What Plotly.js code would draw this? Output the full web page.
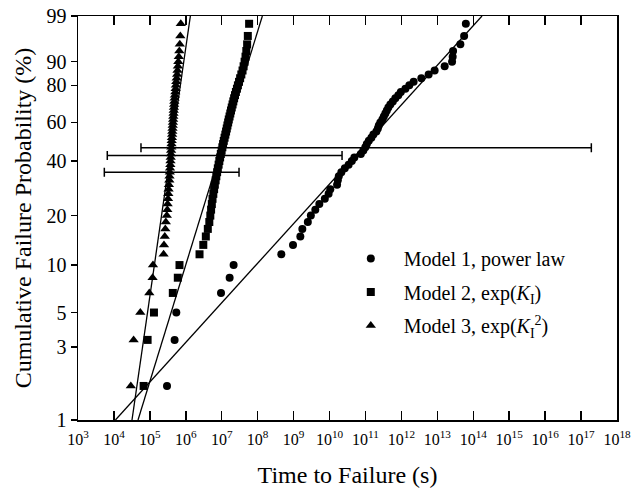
<!DOCTYPE html>
<html>
<head>
<meta charset="utf-8">
<script src="https://cdn.plot.ly/plotly-3.0.1.min.js"></script>
<style>
  html, body { margin: 0; padding: 0; background: #ffffff; }
  #chart { width: 631px; height: 491px; }
</style>
</head>
<body>
<div id="chart"></div>
<script>
// Plotting positions (cumulative failure probability, %) shared by all three models
const probPct = [1.67, 3.33, 5.00, 6.67, 8.33, 10.00, 11.67, 13.33, 15.00, 16.67,
  18.33, 20.00, 21.67, 23.33, 25.00, 26.67, 28.33, 30.00, 31.67, 33.33,
  35.00, 36.67, 38.33, 40.00, 41.67, 43.33, 45.00, 46.67, 48.33, 50.00,
  51.67, 53.33, 55.00, 56.67, 58.33, 60.00, 61.67, 63.33, 65.00, 66.67,
  68.33, 70.00, 71.67, 73.33, 75.00, 76.67, 78.33, 80.00, 81.67, 83.33,
  85.00, 86.67, 88.33, 90.00, 91.67, 93.33, 95.00, 96.67, 98.33];

// Time to failure (s), model 1: power law
const model1Time = [3.00e5, 4.88e5, 5.44e5, 9.55e6, 1.66e7, 2.14e7, 4.55e8, 9.63e8, 1.54e9, 1.75e9,
  2.49e9, 3.02e9, 4.02e9, 5.20e9, 7.39e9, 9.43e9, 1.05e10, 1.62e10, 1.70e10, 1.81e10,
  2.13e10, 2.66e10, 3.40e10, 4.17e10, 4.90e10, 7.43e10, 8.72e10, 9.91e10, 1.09e11, 1.24e11,
  1.46e11, 1.66e11, 2.01e11, 2.21e11, 2.35e11, 2.59e11, 2.95e11, 3.24e11, 3.57e11, 3.93e11,
  4.33e11, 4.92e11, 5.77e11, 6.78e11, 8.21e11, 9.64e11, 1.29e12, 1.66e12, 2.19e12, 3.59e12,
  5.73e12, 8.41e12, 1.60e13, 2.57e13, 2.67e13, 2.74e13, 4.37e13, 5.57e13, 6.21e13];

// Time to failure (s), model 2: exp(K_I)
const model2Time = [6.70e4, 8.65e4, 1.30e5, 4.35e5, 5.99e5, 6.68e5, 2.41e6, 3.07e6, 3.61e6, 4.10e6,
  4.51e6, 4.81e6, 5.06e6, 5.30e6, 5.54e6, 5.83e6, 6.14e6, 6.42e6, 6.76e6, 7.07e6,
  7.44e6, 7.78e6, 8.19e6, 8.57e6, 9.01e6, 9.43e6, 9.92e6, 1.04e7, 1.09e7, 1.14e7,
  1.20e7, 1.26e7, 1.32e7, 1.38e7, 1.44e7, 1.51e7, 1.57e7, 1.65e7, 1.73e7, 1.81e7,
  1.90e7, 2.00e7, 2.10e7, 2.21e7, 2.34e7, 2.48e7, 2.65e7, 2.82e7, 3.03e7, 3.25e7,
  3.51e7, 3.79e7, 4.06e7, 4.33e7, 4.59e7, 4.83e7, 5.09e7, 5.32e7, 5.78e7];

// Time to failure (s), model 3: exp(K_I^2)
const model3Time = [2.95e4, 3.53e4, 5.42e4, 9.65e4, 1.19e5, 1.22e5, 2.41e5, 2.47e5, 2.60e5, 2.69e5,
  2.78e5, 2.96e5, 3.06e5, 3.12e5, 3.20e5, 3.26e5, 3.32e5, 3.39e5, 3.48e5, 3.52e5,
  3.59e5, 3.64e5, 3.71e5, 3.75e5, 3.80e5, 3.85e5, 3.90e5, 3.95e5, 4.00e5, 4.05e5,
  4.11e5, 4.16e5, 4.21e5, 4.27e5, 4.32e5, 4.38e5, 4.44e5, 4.49e5, 4.55e5, 4.61e5,
  4.67e5, 4.73e5, 4.79e5, 4.88e5, 4.98e5, 5.11e5, 5.21e5, 5.31e5, 5.44e5, 5.58e5,
  5.73e5, 5.88e5, 6.03e5, 6.19e5, 6.39e5, 6.60e5, 6.81e5, 7.04e5, 7.26e5];

// Fitted Weibull lines: times at 1 % and 99 % for models 1, 2, 3
const fitProb = [1, 99];
const fitTimeAt1 = [1.10e4, 4.68e4, 3.18e4];
const fitTimeAt99 = [1.75e14, 1.35e8, 1.34e6];

// Confidence ranges (s) for models 1, 2, 3, drawn at the given probability level
const ciProb = [46.5, 42.6, 35.0];
const ciLow = [5.66e4, 6.53e3, 5.40e3];
const ciHigh = [1.93e17, 2.23e10, 3.03e7];

const seriesNames = [
  'Model 1, power law',
  'Model 2, exp(<i>K</i><sub>I</sub>)',
  'Model 3, exp(<i>K</i><sub>I</sub><sup>2</sup>)'
];
const seriesSymbols = ['circle', 'square', 'triangle-up'];
const seriesSizes = [8, 8, 9];

const xTickVals = [1e3, 1e4, 1e5, 1e6, 1e7, 1e8, 1e9, 1e10, 1e11, 1e12, 1e13, 1e14, 1e15, 1e16, 1e17, 1e18];
const xTickText = ['10<sup>3</sup>', '10<sup>4</sup>', '10<sup>5</sup>', '10<sup>6</sup>', '10<sup>7</sup>',
  '10<sup>8</sup>', '10<sup>9</sup>', '10<sup>10</sup>', '10<sup>11</sup>', '10<sup>12</sup>',
  '10<sup>13</sup>', '10<sup>14</sup>', '10<sup>15</sup>', '10<sup>16</sup>', '10<sup>17</sup>', '10<sup>18</sup>'];
const yTickPct = [1, 3, 5, 10, 20, 40, 60, 80, 90, 99];
const yTickText = ['1', '3', '5', '10', '20', '40', '60', '80', '90', '99'];

// Weibull probability scale: ln(-ln(1 - F))
const weib = p => Math.log(-Math.log(1 - p / 100));
const yRange = [weib(1), weib(99)];

const FONT = 'Liberation Serif, Times New Roman, serif';
const traces = [];

// fitted lines
for (let k = 0; k < 3; k++) {
  traces.push({
    x: [fitTimeAt1[k], fitTimeAt99[k]],
    y: fitProb.map(weib),
    mode: 'lines',
    line: { color: '#000', width: 1.3 },
    showlegend: false,
    hoverinfo: 'skip'
  });
}

// confidence ranges as horizontal error bars around the geometric centre
for (let k = 0; k < 3; k++) {
  const c = Math.sqrt(ciLow[k] * ciHigh[k]);
  traces.push({
    x: [c],
    y: [weib(ciProb[k])],
    mode: 'markers',
    marker: { color: 'rgba(0,0,0,0)', size: 1 },
    error_x: {
      type: 'data', symmetric: false,
      array: [ciHigh[k] - c], arrayminus: [c - ciLow[k]],
      color: '#000', thickness: 1.5, width: 4.5
    },
    showlegend: false,
    hoverinfo: 'skip'
  });
}

// data points
const times = [model1Time, model2Time, model3Time];
for (let k = 0; k < 3; k++) {
  traces.push({
    x: times[k],
    y: probPct.map(weib),
    mode: 'markers',
    name: seriesNames[k],
    legendgroup: 'g' + k,
    marker: { symbol: seriesSymbols[k], size: seriesSizes[k], color: '#000' }
  });
}

const layout = {
  width: 631,
  height: 491,
  margin: { l: 78, r: 14, t: 16, b: 71 },
  paper_bgcolor: '#fff',
  plot_bgcolor: '#fff',
  font: { family: FONT, color: '#000', size: 20 },
  showlegend: true,
  legend: {
    x: 0.482, y: 0.448, xanchor: 'left', yanchor: 'top',
    bgcolor: 'rgba(0,0,0,0)',
    font: { family: FONT, size: 20, color: '#000' },
    tracegroupgap: 4.5,
    itemwidth: 56
  },
  xaxis: {
    type: 'log',
    range: [3, 18],
    tickvals: xTickVals,
    ticktext: xTickText,
    ticks: 'inside',
    ticklen: 9,
    tickwidth: 1.5,
    tickcolor: '#000',
    ticklabelstandoff: 4,
    showline: true,
    linecolor: '#000',
    linewidth: 1.5,
    mirror: 'ticks',
    showgrid: false,
    zeroline: false,
    tickfont: { family: FONT, size: 16, color: '#000' },
    title: { text: 'Time to Failure (s)', font: { family: FONT, size: 24, color: '#000' }, standoff: 19 }
  },
  yaxis: {
    range: yRange,
    tickvals: yTickPct.map(weib),
    ticktext: yTickText,
    ticks: 'outside',
    ticklen: 6,
    tickwidth: 1.5,
    tickcolor: '#000',
    showline: true,
    linecolor: '#000',
    linewidth: 1.5,
    mirror: true,
    showgrid: false,
    zeroline: false,
    tickfont: { family: FONT, size: 20, color: '#000' },
    title: { text: 'Cumulative Failure Probability (%)', font: { family: FONT, size: 24, color: '#000' }, standoff: 8 }
  },
  yaxis2: {
    overlaying: 'y',
    side: 'right',
    range: yRange,
    tickvals: yTickPct.map(weib),
    ticks: 'inside',
    ticklen: 10,
    tickwidth: 1.5,
    tickcolor: '#000',
    showticklabels: false,
    showline: false,
    showgrid: false,
    zeroline: false
  }
};

Plotly.newPlot('chart', traces, layout, { displayModeBar: false, staticPlot: true });
</script>
</body>
</html>
